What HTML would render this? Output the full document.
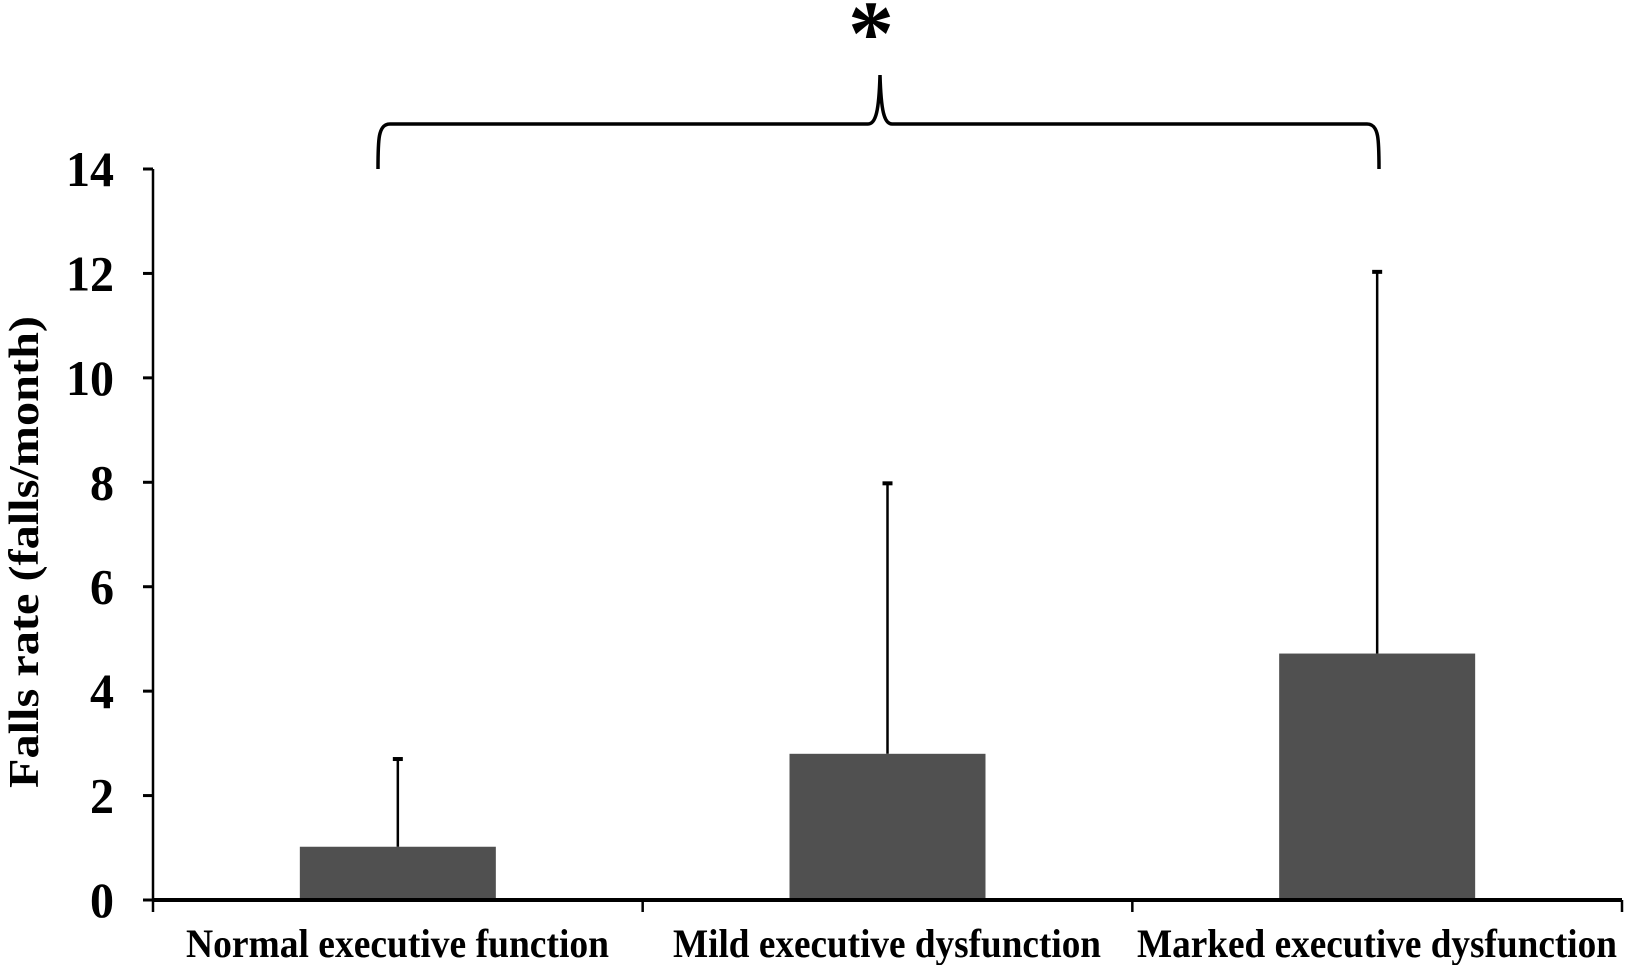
<!DOCTYPE html>
<html><head><meta charset="utf-8"><style>
html,body{margin:0;padding:0;background:#fff;}
svg{display:block;font-family:"Liberation Serif",serif;font-weight:bold;}
</style></head><body>
<svg id="chart" width="1625" height="965" viewBox="0 0 1625 965"></svg>
<script>
const categories = ["Normal executive function","Mild executive dysfunction","Marked executive dysfunction"];
const means = [1.02, 2.8, 4.72];
const errTops = [2.7, 7.98, 12.03];
const yTicks = [0,2,4,6,8,10,12,14];

const NS="http://www.w3.org/2000/svg";
const svg=document.getElementById('chart');
const x0=153, x1=1622, yBase=900, yTop=169, yMax=14;
const slot=(x1-x0)/categories.length;
const y=v=>yBase-(v/yMax)*(yBase-yTop);
const xc=i=>x0+slot*(i+0.5);
const labelLens=[423,428,480];
const labelX=[186,673,1137];
function mk(t,a){const e=document.createElementNS(NS,t);for(const k in a)e.setAttribute(k,a[k]);svg.appendChild(e);return e;}

categories.forEach((c,i)=>{
  const bw=196;
  const r=mk('rect',{x:xc(i)-bw/2,y:y(means[i]),width:bw,height:yBase-y(means[i]),fill:'#505050'});
  
  
  const l=mk('line',{x1:xc(i),x2:xc(i),y1:y(means[i]),y2:y(errTops[i]),stroke:'#000','stroke-width':2.5});
  
  
  const cap=mk('line',{x1:xc(i)-5,x2:xc(i)+5,y1:y(errTops[i]),y2:y(errTops[i]),stroke:'#000','stroke-width':4});
  
  
  const t=mk('text',{x:labelX[i],y:957,'font-size':40,textLength:labelLens[i],lengthAdjust:'spacingAndGlyphs'});
  t.textContent=c;
  
  
});

const ya=mk('line',{x1:x0,x2:x0,y1:yTop,y2:yBase,stroke:'#000','stroke-width':2.5});


yTicks.forEach(v=>{
  const tk=mk('line',{x1:x0-10,x2:x0,y1:y(v),y2:y(v),stroke:'#000','stroke-width':3});
  
  
  const s=String(v);
  const t=mk('text',{x:114,y:y(v)+17,'text-anchor':'end','font-size':50,textLength:s.length*24,lengthAdjust:'spacingAndGlyphs'});
  t.textContent=s;
  
  
});
const xa=mk('line',{x1:x0,x2:x1,y1:yBase,y2:yBase,stroke:'#000','stroke-width':4});


for(let i=0;i<=categories.length;i++){
  const tk=mk('line',{x1:x0+slot*i,x2:x0+slot*i,y1:yBase,y2:yBase+12,stroke:'#000','stroke-width':2.5});
  
  
}
const yt=mk('text',{x:0,y:0,transform:'translate(38,552) rotate(-90)','text-anchor':'middle','font-size':42,textLength:472,lengthAdjust:'spacingAndGlyphs'});
yt.textContent='Falls rate (falls/month)';



const br=mk('path',{d:'M378,169 C378,140 378,124 390,124 L868,124 C876,124 879,110 880,75 C881,110 884,124 892,124 L1367,124 C1379,124 1379,140 1379,169',fill:'none',stroke:'#000','stroke-width':3.5});


const st=mk('text',{x:871,y:64,'text-anchor':'middle','font-size':92});
st.textContent='*';


</script>
</body></html>
